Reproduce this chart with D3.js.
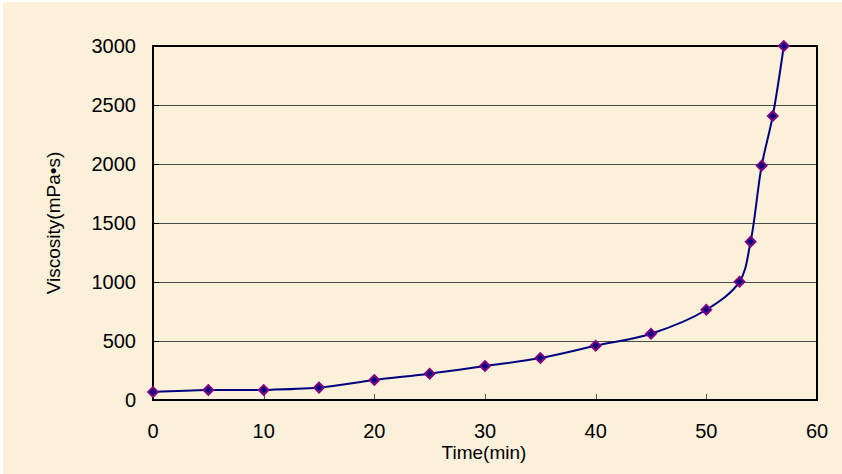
<!DOCTYPE html>
<html>
<head>
  <meta charset="UTF-8" />
  <script src="https://d3js.org/d3.v7.min.js"></script>
  <style>
    body { margin: 0; background: #fff; }
    svg text { font-family: "Liberation Sans", Arial, sans-serif; fill: #000; }
  </style>
</head>
<body>
  <div id="chart"></div>
  <script>
    // data
    const times      = [0, 5, 10, 15, 20, 25, 30, 35, 40, 45, 50, 53, 54, 55, 56, 57];
    const viscosity  = [68, 85, 85, 105, 170, 223, 288, 356, 460, 562, 765, 1003, 1342, 1986, 2407, 3000];
    const xTicks     = [0, 10, 20, 30, 40, 50, 60];
    const yTicks     = [0, 500, 1000, 1500, 2000, 2500, 3000];

    const width = 842, height = 474;
    const margin = {top: 46, right: 25, bottom: 74, left: 153};
    const plotW = width - margin.left - margin.right;
    const plotH = height - margin.top - margin.bottom;

    const svg = d3.select("#chart").append("svg")
      .attr("width", width)
      .attr("height", height);

    // cream paper background
    svg.append("rect")
      .attr("x", 3).attr("y", 2)
      .attr("width", width - 3).attr("height", height - 2)
      .attr("fill", "#fbf0da");

    const x = d3.scaleLinear().domain([0, 60]).range([0, plotW]);
    const y = d3.scaleLinear().domain([0, 3000]).range([plotH, 0]);

    const g = svg.append("g").attr("transform", `translate(${margin.left},${margin.top})`);

    // grid lines
    g.selectAll(".grid")
      .data(yTicks.slice(1, -1))
      .enter().append("line")
        .attr("x1", 0).attr("x2", plotW)
        .attr("y1", d => Math.round(y(d)) + 0.5).attr("y2", d => Math.round(y(d)) + 0.5)
        .attr("stroke", "#4a4a4a")
        .attr("stroke-width", 1);

    // tick marks (inside)
    g.selectAll(".ytick")
      .data(yTicks)
      .enter().append("line")
        .attr("x1", 0).attr("x2", 6)
        .attr("y1", d => Math.round(y(d)) + 0.5).attr("y2", d => Math.round(y(d)) + 0.5)
        .attr("stroke", "#000");
    g.selectAll(".xtick")
      .data(xTicks)
      .enter().append("line")
        .attr("x1", d => Math.round(x(d)) + 0.5).attr("x2", d => Math.round(x(d)) + 0.5)
        .attr("y1", plotH).attr("y2", plotH - 6)
        .attr("stroke", "#555");

    // plot border
    g.append("rect")
      .attr("width", plotW).attr("height", plotH)
      .attr("fill", "none")
      .attr("stroke", "#000")
      .attr("stroke-width", 2);

    // tick labels
    g.selectAll(".ylab")
      .data(yTicks)
      .enter().append("text")
        .attr("x", -17)
        .attr("y", d => y(d))
        .attr("dy", "0.35em")
        .attr("text-anchor", "end")
        .attr("font-size", 20)
        .text(d => d);
    g.selectAll(".xlab")
      .data(xTicks)
      .enter().append("text")
        .attr("x", d => x(d))
        .attr("y", plotH + 38)
        .attr("text-anchor", "middle")
        .attr("font-size", 20)
        .text(d => d);

    // axis titles
    svg.append("text")
      .attr("x", margin.left + x(30) - 1)
      .attr("y", 459)
      .attr("text-anchor", "middle")
      .attr("font-size", 19)
      .text("Time(min)");
    svg.append("text")
      .attr("transform", `translate(60,${margin.top + plotH / 2}) rotate(-90)`)
      .attr("text-anchor", "middle")
      .attr("font-size", 19)
      .text("Viscosity(mPa•s)");

    const points = times.map((t, i) => ({t: t, v: viscosity[i]}));

    // smoothed line
    const line = d3.line()
      .x(d => x(d.t))
      .y(d => y(d.v))
      .curve(d3.curveCatmullRom.alpha(0.5));
    g.append("path")
      .datum(points)
      .attr("d", line)
      .attr("fill", "none")
      .attr("stroke", "#000080")
      .attr("stroke-width", 2);

    // diamond markers
    const diamond = d3.symbol().type(d3.symbolDiamond2).size(60);
    g.selectAll(".pt")
      .data(points)
      .enter().append("path")
        .attr("d", diamond)
        .attr("transform", d => `translate(${x(d.t)},${y(d.v)})`)
        .attr("fill", "#000080")
        .attr("stroke", "#800080")
        .attr("stroke-width", 2);
  </script>
</body>
</html>
